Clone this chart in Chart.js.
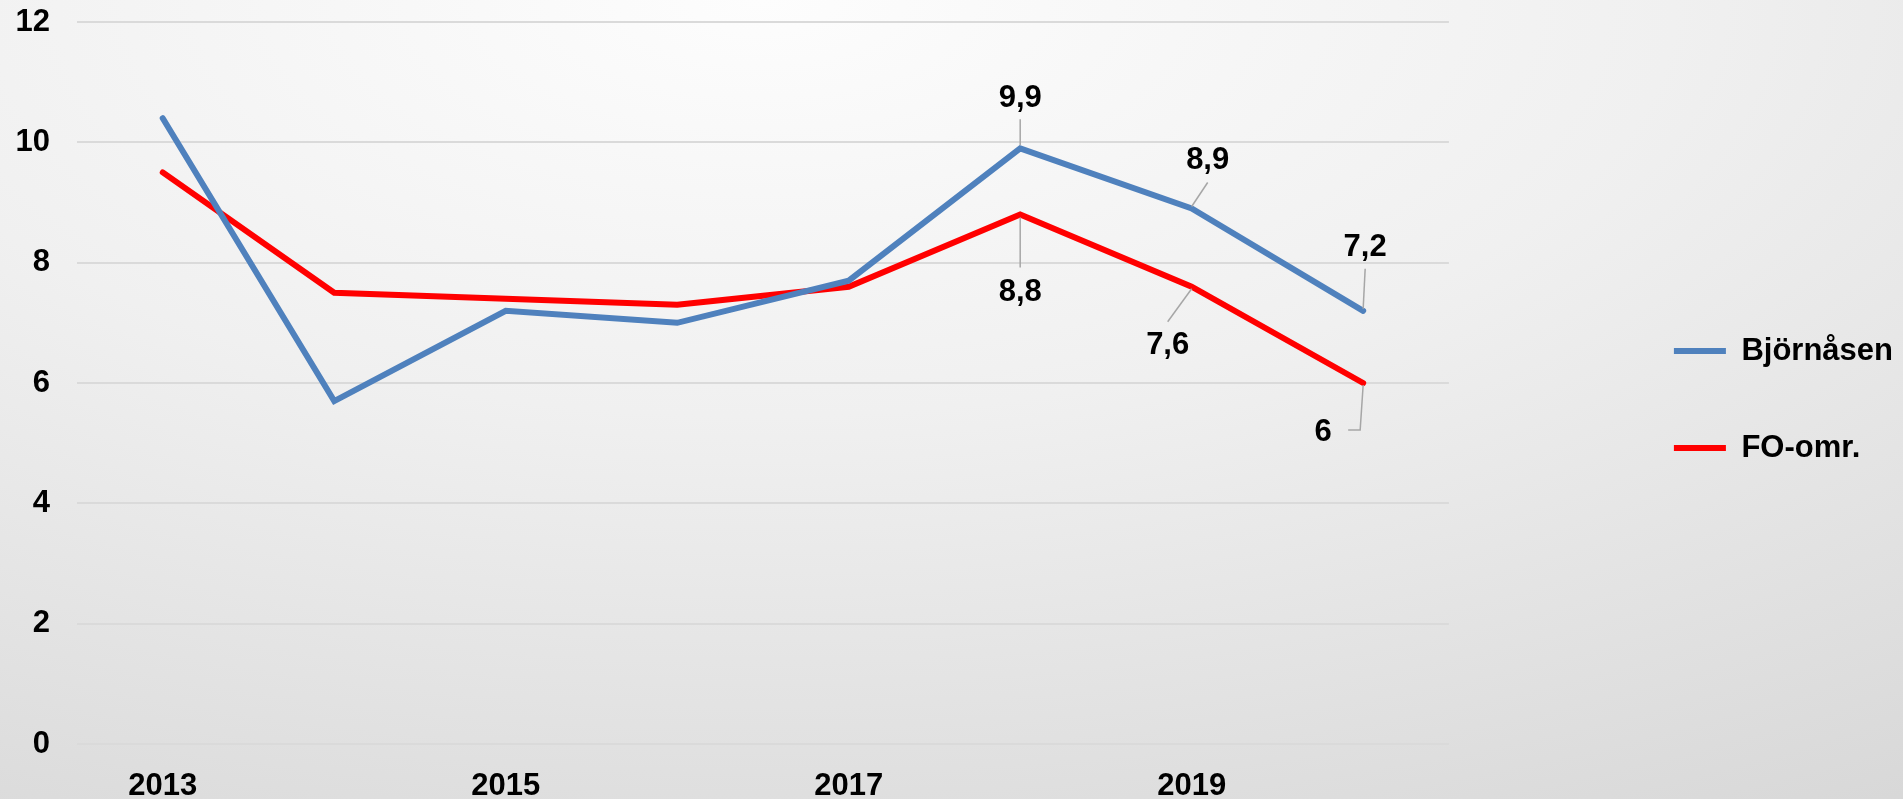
<!DOCTYPE html>
<html>
<head>
<meta charset="utf-8">
<title>Björnåsen</title>
<script src="https://cdn.jsdelivr.net/npm/chart.js@4.4.1/dist/chart.umd.min.js"></script>
<style>
    html, body { margin: 0; padding: 0; }
    body {
        width: 1903px; height: 799px; overflow: hidden;
        background: radial-gradient(ellipse 120% 130% at 40% 0%, #fdfdfd 0%, #f0f0f0 40%, #d4d4d4 100%);
    }
    canvas { display: block; }
</style>
</head>
<body>
<canvas id="chartcanvas" width="1903" height="799"></canvas>

<script>
    // data
    const years = ['2013', '2014', '2015', '2016', '2017', '2018', '2019', '2020'];
    const bjornasen = [10.4, 5.7, 7.2, 7.0, 7.7, 9.9, 8.9, 7.2];
    const foOmr = [9.5, 7.5, 7.4, 7.3, 7.6, 8.8, 7.6, 6.0];
    const shownYears = ['2013', '2015', '2017', '2019'];
    const labelledYears = ['2018', '2019', '2020'];

    const FONT = '"Liberation Sans", Arial, sans-serif';
    const FSIZE = 31;

    // where each value label sits relative to its point (text offset + leader polyline)
    const labelPlacement = [
        [ // Björnåsen
            {dx: 0, dy: -50, lead: [[0, -3], [0, -29]]},
            {dx: 16, dy: -48, lead: [[0, -2], [16, -26]]},
            {dx: 2, dy: -63, lead: [[0, -2], [2, -42]]}
        ],
        [ // FO-omr.
            {dx: 0, dy: 78, lead: [[0, 3], [0, 53]]},
            {dx: -24, dy: 59, lead: [[0, 2], [-24, 35]]},
            {dx: -40, dy: 49, lead: [[0, 2], [-3, 47], [-15, 47]]}
        ]
    ];

    const valueLabels = {
        id: 'valueLabels',
        afterDatasetsDraw(chart) {
            const c = chart.ctx;
            chart.data.datasets.forEach((ds, di) => {
                const meta = chart.getDatasetMeta(di);
                labelledYears.forEach((yr, k) => {
                    const i = years.indexOf(yr);
                    const pt = meta.data[i];
                    const pl = labelPlacement[di][k];
                    c.save();
                    c.strokeStyle = '#a6a6a6';
                    c.lineWidth = 1.5;
                    c.beginPath();
                    pl.lead.forEach((p, j) => {
                        if (j == 0) c.moveTo(pt.x + p[0], pt.y + p[1]);
                        else c.lineTo(pt.x + p[0], pt.y + p[1]);
                    });
                    c.stroke();
                    c.fillStyle = '#000';
                    c.font = 'bold ' + FSIZE + 'px ' + FONT;
                    c.textAlign = 'center';
                    c.textBaseline = 'middle';
                    c.fillText(String(ds.data[i]).replace('.', ','), pt.x + pl.dx, pt.y + pl.dy);
                    c.restore();
                });
            });
        }
    };

    const ctx = document.getElementById('chartcanvas');

    var chart = new Chart(ctx, {
        type: 'line',
        data: {
            labels: years,
            datasets: [{
                label: 'Björnåsen',
                data: bjornasen,
                borderColor: '#4f81bd',
                backgroundColor: '#4f81bd',
                borderWidth: 6,
                borderCapStyle: 'round',
                pointRadius: 0,
                tension: 0
            },
            {
                label: 'FO-omr.',
                data: foOmr,
                borderColor: '#ff0000',
                backgroundColor: '#ff0000',
                borderWidth: 6,
                borderCapStyle: 'round',
                pointRadius: 0,
                tension: 0
            }]
        },
        options: {
            responsive: false,
            animation: false,
            devicePixelRatio: 1,
            layout: { padding: 0 },
            plugins: {
                tooltip: { enabled: false },
                legend: {
                    position: 'right',
                    labels: {
                        usePointStyle: true,
                        pointStyle: 'line',
                        pointStyleWidth: 52,
                        padding: 66,
                        color: '#000',
                        font: { family: FONT, size: FSIZE, weight: 'bold' }
                    }
                }
            },
            scales: {
                x: {
                    offset: true,
                    grid: { display: false },
                    border: { display: false },
                    ticks: {
                        autoSkip: false,
                        maxRotation: 0,
                        padding: 16,
                        color: '#000',
                        font: { family: FONT, size: FSIZE, weight: 'bold' },
                        callback: function (v, i) {
                            return shownYears.includes(years[i]) ? years[i] : '';
                        }
                    },
                    afterFit: function (s) { s.height = 55; }
                },
                y: {
                    min: 0,
                    max: 12,
                    grid: { color: '#dadada', lineWidth: 2, drawTicks: false },
                    border: { display: false },
                    ticks: {
                        stepSize: 2,
                        padding: 27,
                        color: '#000',
                        font: { family: FONT, size: FSIZE, weight: 'bold' }
                    },
                    afterFit: function (s) {
                        s.width = 77;
                        s.paddingTop = 22;
                        s.paddingBottom = 0;
                    }
                },
                yR: {
                    position: 'right',
                    grid: { display: false },
                    border: { display: false },
                    ticks: { display: false },
                    afterFit: function (s) { s.width = 159; }
                }
            }
        },
        plugins: [valueLabels]
    });
</script>
</body>
</html>
